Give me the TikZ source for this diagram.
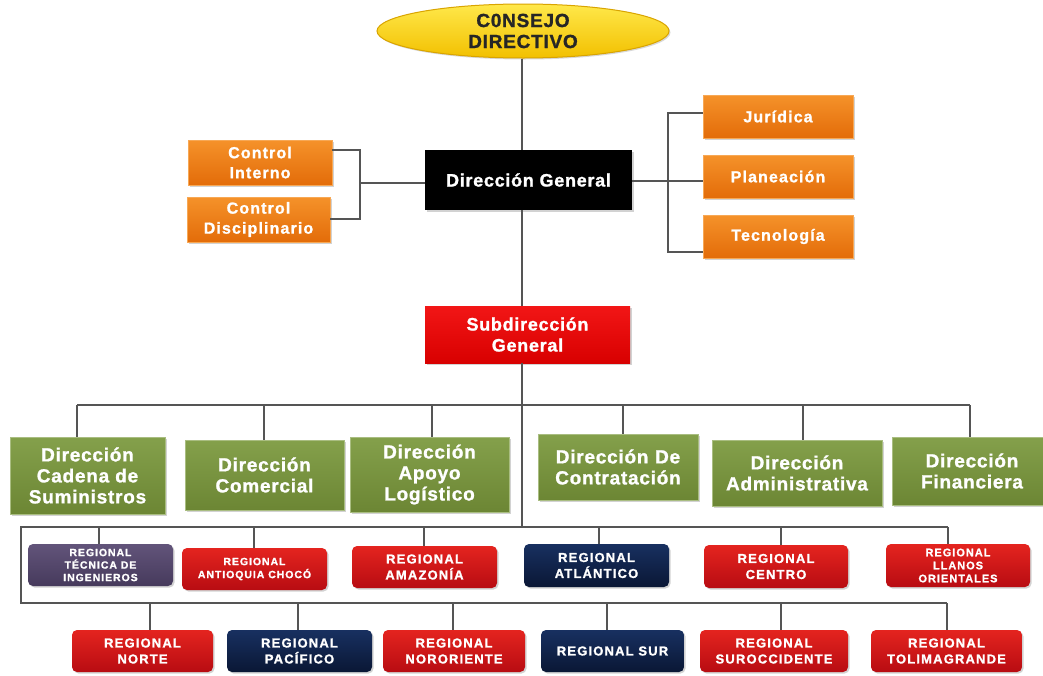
\documentclass[tikz,border=0pt]{standalone}
\usepackage{fontspec}
\setmainfont{Liberation Sans}
\newfontfamily\fmain[LetterSpace=4,FakeBold=1.2]{Liberation Sans}
\newfontfamily\forg[LetterSpace=7,FakeBold=1.2]{Liberation Sans}
\newfontfamily\freg[LetterSpace=9,FakeBold=1.2]{Liberation Sans}
\usetikzlibrary{shapes.geometric,shadows}
\definecolor{orgT}{HTML}{F5922A}\definecolor{orgB}{HTML}{E36C09}
\definecolor{grnT}{HTML}{84A04B}\definecolor{grnB}{HTML}{6C8634}
\definecolor{subT}{HTML}{F21616}\definecolor{subB}{HTML}{D80000}
\definecolor{redT}{HTML}{E4241F}\definecolor{redB}{HTML}{B80C12}
\definecolor{navT}{HTML}{183060}\definecolor{navB}{HTML}{0A1735}
\definecolor{purT}{HTML}{62547A}\definecolor{purB}{HTML}{463A5C}
\definecolor{yelT}{HTML}{FFE84A}\definecolor{yelB}{HTML}{F2C000}
\definecolor{yelD}{HTML}{D9A400}
\definecolor{lineC}{HTML}{555555}
\tikzset{
  conn/.style={draw=lineC, line width=1.2pt},
  boxbase/.style={inner sep=0pt, align=center, text=white, font=\fmain\bfseries,
     drop shadow={shadow xshift=1.5pt, shadow yshift=-1.5pt, opacity=0.35}},
  orgbox/.style={boxbase, top color=orgT, bottom color=orgB, draw=orgT!80!white, font=\forg\bfseries\fontsize{16}{20}\selectfont},
  grnbox/.style={boxbase, top color=grnT, bottom color=grnB, draw=grnT!70!white, font=\fmain\bfseries\fontsize{19}{21}\selectfont},
  dgbox/.style={boxbase, fill=black, font=\fmain\bfseries\fontsize{18}{21}\selectfont},
  sgbox/.style={boxbase, top color=subT, bottom color=subB, font=\fmain\bfseries\fontsize{18}{21}\selectfont},
  regbox/.style={boxbase, rounded corners=5pt, font=\freg\bfseries\fontsize{13}{16}\selectfont},
  redreg/.style={regbox, top color=redT, bottom color=redB},
  navreg/.style={regbox, top color=navT, bottom color=navB},
  purreg/.style={regbox, top color=purT, bottom color=purB},
  ellbox/.style={ellipse, inner sep=0pt, top color=yelT, bottom color=yelB, draw=yelD, line width=1pt,
     text=black!85, align=center, font=\fmain\bfseries\fontsize{19}{21}\selectfont,
     drop shadow={shadow xshift=1.5pt, shadow yshift=-1.5pt, opacity=0.3}}
}
\begin{document}
\begin{tikzpicture}[x=1pt,y=-1pt]
\useasboundingbox[fill=white] (0,0) rectangle (1043,675);
% nodes
\node[ellbox, minimum width=292pt, minimum height=54pt] (ell) at (523,31) {C0NSEJO\\DIRECTIVO};
\node[dgbox, minimum width=207pt, minimum height=60pt] (dg) at (528.5,180) {Dirección General};
\node[orgbox, minimum width=144pt, minimum height=45pt] (ci) at (260,162.5) {Control\\Interno};
\node[orgbox, minimum width=143pt, minimum height=45pt] (cd) at (258.5,219.5) {Control\\Disciplinario};
\node[orgbox, minimum width=150pt, minimum height=43pt] (jur) at (778,116.5) {Jurídica};
\node[orgbox, minimum width=150pt, minimum height=43pt] (plan) at (778,176.5) {Planeación};
\node[orgbox, minimum width=150pt, minimum height=43pt] (tec) at (778,236.5) {Tecnología};
\node[sgbox, minimum width=205pt, minimum height=57pt] (sg) at (527.5,334.5) {Subdirección\\General};
% green
\node[grnbox, minimum width=155pt, minimum height=77pt] (g1) at (87.5,475.5) {Dirección\\Cadena de\\Suministros};
\node[grnbox, minimum width=159pt, minimum height=70pt] (g2) at (264.5,475) {Dirección\\Comercial};
\node[grnbox, minimum width=159pt, minimum height=75pt] (g3) at (429.5,474.5) {Dirección\\Apoyo\\Logístico};
\node[grnbox, minimum width=160pt, minimum height=66pt] (g4) at (618,467) {Dirección\hspace{0.35em}De\\Contratación};
\node[grnbox, minimum width=170pt, minimum height=66pt] (g5) at (797,473) {Dirección\\Administrativa};
\node[grnbox, minimum width=160pt, minimum height=68pt] (g6) at (972,471) {Dirección\\Financiera};
% regional row 1
\node[purreg, minimum width=145pt, minimum height=42pt, font=\freg\bfseries\fontsize{10.5}{12.5}\selectfont] (r1) at (100.5,565) {REGIONAL\\TÉCNICA DE\\INGENIEROS};
\node[redreg, minimum width=145pt, minimum height=42pt, font=\freg\bfseries\fontsize{10.5}{13}\selectfont] (r2) at (254.5,569) {REGIONAL\\ANTIOQUIA CHOCÓ};
\node[redreg, minimum width=145pt, minimum height=42pt] (r3) at (424.5,567) {REGIONAL\\AMAZONÍA};
\node[navreg, minimum width=145pt, minimum height=43pt] (r4) at (596.5,565.5) {REGIONAL\\ATLÁNTICO};
\node[redreg, minimum width=144pt, minimum height=43pt] (r5) at (776,566.5) {REGIONAL\\CENTRO};
\node[redreg, minimum width=144pt, minimum height=43pt, font=\freg\bfseries\fontsize{11}{13}\selectfont] (r6) at (958,565.5) {REGIONAL\\LLANOS\\ORIENTALES};
% regional row 2
\node[redreg, minimum width=141pt, minimum height=42pt] (s1) at (142.5,651) {REGIONAL\\NORTE};
\node[navreg, minimum width=145pt, minimum height=42pt] (s2) at (299.5,651) {REGIONAL\\PACÍFICO};
\node[redreg, minimum width=142pt, minimum height=42pt] (s3) at (454,651) {REGIONAL\\NORORIENTE};
\node[navreg, minimum width=143pt, minimum height=42pt] (s4) at (612.5,651) {REGIONAL SUR};
\node[redreg, minimum width=148pt, minimum height=42pt] (s5) at (774,651) {REGIONAL\\SUROCCIDENTE};
\node[redreg, minimum width=151pt, minimum height=42pt] (s6) at (946.5,651) {REGIONAL\\TOLIMAGRANDE};
% connectors
\coordinate (sx) at (522,0);
\draw[conn] (sx |- ell.south) -- (sx |- dg.north);
\draw[conn] (sx |- dg.south) -- (sx |- sg.north);
\draw[conn] (sx |- sg.south) -- (522,527);
% left bracket
\coordinate (lb) at (360,183);
\draw[conn] (ci.east |- 0,150) -- (360,150) -- (360,219) -- (cd.east |- 0,219);
\draw[conn] (lb) -- (dg.west |- lb);
% right bracket
\coordinate (rb) at (668,181);
\draw[conn] (dg.east |- rb) -- (plan.west |- rb);
\draw[conn] (jur.west |- 0,113) -- (668,113) -- (668,252) -- (tec.west |- 0,252);
% green bus
\draw[conn] (77,405) -- (970,405);
\draw[conn] (77,405) -- (g1.north -| 77,0);
\draw[conn] (264,405) -- (g2.north -| 264,0);
\draw[conn] (432,405) -- (g3.north -| 432,0);
\draw[conn] (623,405) -- (g4.north -| 623,0);
\draw[conn] (803,405) -- (g5.north -| 803,0);
\draw[conn] (970,405) -- (g6.north -| 970,0);
% regional buses
\draw[conn] (948,527) -- (21,527) -- (21,603) -- (947,603);
\draw[conn] (99,527) -- (r1.north -| 99,0);
\draw[conn] (254,527) -- (r2.north -| 254,0);
\draw[conn] (424,527) -- (r3.north -| 424,0);
\draw[conn] (599,527) -- (r4.north -| 599,0);
\draw[conn] (781,527) -- (r5.north -| 781,0);
\draw[conn] (948,527) -- (r6.north -| 948,0);
\draw[conn] (150,603) -- (s1.north -| 150,0);
\draw[conn] (298,603) -- (s2.north -| 298,0);
\draw[conn] (453,603) -- (s3.north -| 453,0);
\draw[conn] (607,603) -- (s4.north -| 607,0);
\draw[conn] (781,603) -- (s5.north -| 781,0);
\draw[conn] (947,603) -- (s6.north -| 947,0);
\end{tikzpicture}
\end{document}
